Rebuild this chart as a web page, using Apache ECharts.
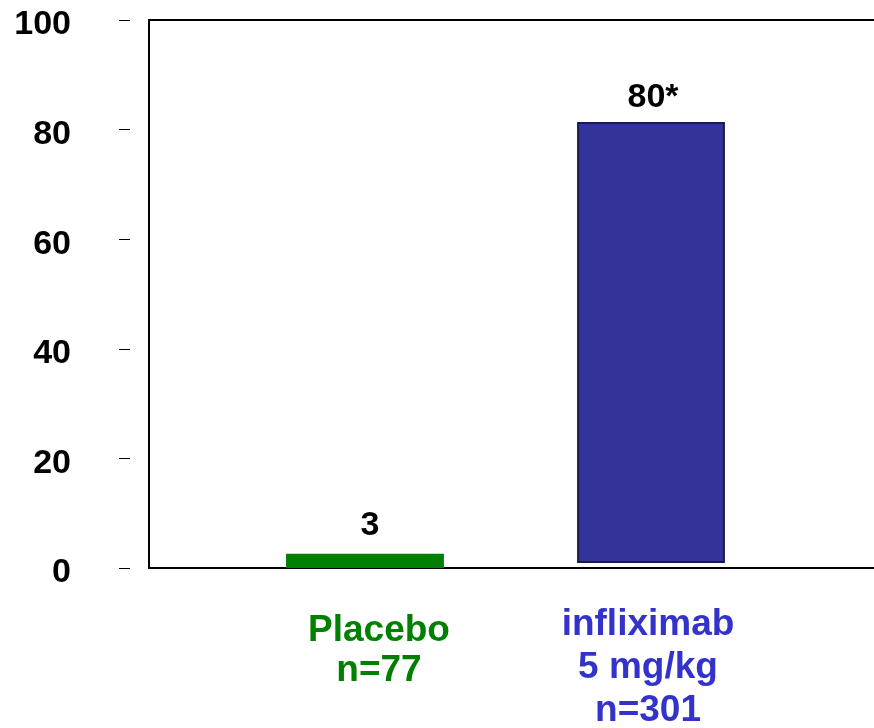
<!DOCTYPE html>
<html>
<head>
<meta charset="utf-8">
<script src="https://cdn.jsdelivr.net/npm/echarts@6/dist/echarts.min.js"></script>
<style>html,body{margin:0;padding:0;background:#fff}#c{width:874px;height:728px}</style>
</head>
<body>
<div id="c"></div>
<script>
var categories = ['Placebo\nn=77', 'infliximab\n5 mg/kg\nn=301'];
var barBase = [0, 1.1];
var barTop = [2.6, 81.2];
var valueLabels = ['3', '80*'];
var yTicks = [0, 20, 40, 60, 80, 100];

var FONT = 'Liberation Sans, Arial, sans-serif';
var fills = ['#008000', '#333399'];
var strokes = [null, '#1c1c4a'];
var widthRatio = [0.552, 0.51];
var labelColors = ['#008000', '#3333CC'];
var labelGap = [11, 8];

var chart = echarts.init(document.getElementById('c'));
var data = categories.map(function (c, i) { return [i, barBase[i], barTop[i]]; });

chart.setOption({
  animation: false,
  backgroundColor: '#fff',
  grid: [
    { left: 149, right: 0, top: 20, bottom: 160, containLabel: false, outerBoundsMode: 'none' },
    { left: 222, width: 572, top: 20, bottom: 160, containLabel: false, outerBoundsMode: 'none' }
  ],
  xAxis: [
    { gridIndex: 0, type: 'value', position: 'bottom', min: 0, max: 1,
      axisLine: { show: true, onZero: false, lineStyle: { color: '#000', width: 2 } },
      axisTick: { show: false }, axisLabel: { show: false }, splitLine: { show: false } },
    { gridIndex: 0, type: 'value', position: 'top', min: 0, max: 1,
      axisLine: { show: true, onZero: false, lineStyle: { color: '#000', width: 2 } },
      axisTick: { show: false }, axisLabel: { show: false }, splitLine: { show: false } },
    { gridIndex: 1, type: 'category', data: categories, position: 'bottom',
      axisLine: { show: false }, axisTick: { show: false }, splitLine: { show: false },
      axisLabel: {
        margin: 35,
        formatter: function (v, i) {
          var key = i === 0 ? 'g' : 'b';
          var lines = v.split('\n').map(function (s) { return '{' + key + '|' + s + '}'; });
          if (i === 0) lines.unshift('{s| }');
          return lines.join('\n');
        },
        rich: {
          s: { fontSize: 1, lineHeight: 8 },
          g: { color: labelColors[0], fontFamily: FONT, fontWeight: 'bold', fontSize: 37, lineHeight: 40, padding: [0, 0, 0, 28] },
          b: { color: labelColors[1], fontFamily: FONT, fontWeight: 'bold', fontSize: 37, lineHeight: 43, padding: [0, 6, 0, 0] }
        }
      } }
  ],
  yAxis: [
    { gridIndex: 0, type: 'value', min: 0, max: 100, interval: 20,
      axisLine: { show: true, onZero: false, lineStyle: { color: '#000', width: 2 } },
      axisTick: { show: false }, axisLabel: { show: false }, splitLine: { show: false } },
    { gridIndex: 0, type: 'value', min: 0, max: 100, interval: 20, offset: 19, position: 'left',
      axisLine: { show: false, onZero: false },
      axisTick: { show: true, length: 11, lineStyle: { color: '#000', width: 1 } },
      axisLabel: { show: true, margin: 59,
        formatter: function (v) { return yTicks.indexOf(v) >= 0 ? '{t|' + v + '}' : ''; },
        rich: { t: { color: '#000', fontFamily: FONT, fontWeight: 'bold', fontSize: 34, lineHeight: 40, padding: [10, 0, 0, 0] } } },
      splitLine: { show: false } },
    { gridIndex: 1, type: 'value', min: 0, max: 100, show: false }
  ],
  series: [{
    type: 'custom',
    xAxisIndex: 2,
    yAxisIndex: 2,
    data: data,
    renderItem: function (params, api) {
      var i = api.value(0);
      var lo = api.coord([i, api.value(1)]);
      var hi = api.coord([i, api.value(2)]);
      var band = api.size([1, 0])[0];
      var w = band * widthRatio[i];
      var children = [{
        type: 'rect',
        shape: { x: lo[0] - w / 2, y: hi[1], width: w, height: lo[1] - hi[1] },
        style: { fill: fills[i], stroke: strokes[i], lineWidth: strokes[i] ? 2 : 0 }
      }, {
        type: 'text',
        style: {
          text: valueLabels[i], x: lo[0] + (i === 0 ? 5 : 2), y: hi[1] - labelGap[i],
          textAlign: 'center', textVerticalAlign: 'bottom',
          fill: '#000', font: 'bold 34px ' + FONT
        }
      }];
      return { type: 'group', children: children };
    }
  }]
});
</script>
</body>
</html>
